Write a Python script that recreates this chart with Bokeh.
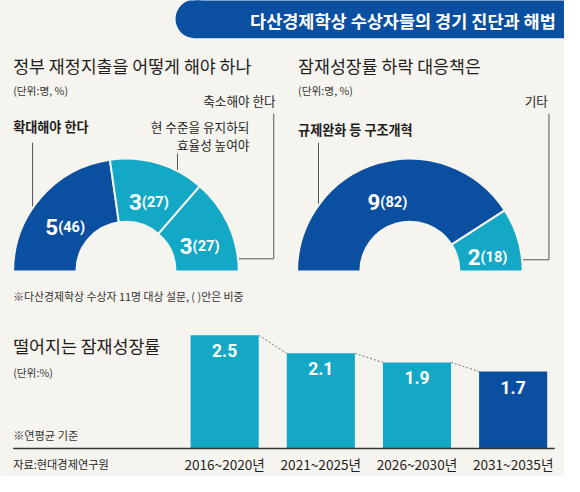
import numpy as np
from bokeh.plotting import figure
from bokeh.models import Range1d
from bokeh.core.properties import value
from bokeh.embed import file_html
from bokeh.resources import INLINE

# ---------------- data ----------------
headline = "다산경제학상 수상자들의 경기 진단과 해법"

spend_title = "정부 재정지출을 어떻게 해야 하나"
spend_labels = ["확대해야 한다", "현 수준을 유지하되\n효율성 높여야", "축소해야 한다"]
spend_counts = [5, 3, 3]
spend_pcts = [46, 27, 27]

growth_title = "잠재성장률 하락 대응책은"
growth_labels = ["규제완화 등 구조개혁", "기타"]
growth_counts = [9, 2]
growth_pcts = [82, 18]

unit_people = "(단위:명, %)"
survey_note = "※다산경제학상 수상자 11명 대상 설문, ( )안은 비중"

bar_title = "떨어지는 잠재성장률"
bar_unit = "(단위:%)"
bar_note = "※연평균 기준"
source = "자료:현대경제연구원"
periods = ["2016~2020년", "2021~2025년", "2026~2030년", "2031~2035년"]
potential_growth = [2.5, 2.1, 1.9, 1.7]

# ---------------- style ----------------
BG = "#f6f4ef"
DARK = "#0b4fa0"
TEAL = "#13a8c6"
INK = "#1e1e1e"
GREY = "#555555"
KR = value("Noto Sans CJK KR")
NUM = value("Roboto")

W, H = 564, 476
X0, X1 = 0, 580
Y0, Y1 = 0, 492
FS = W / (X1 - X0)   # font scale: layout space -> screen pixels


def fsz(s):
    return f"{s * FS:.2f}px"


p = figure(width=W, height=H, x_range=Range1d(X0, X1), y_range=Range1d(Y1, Y0),
           output_backend="svg", toolbar_location=None, title=None,
           x_axis_type=None, y_axis_type=None, min_border=0,
           outline_line_color=None, background_fill_color=BG, border_fill_color=BG)
p.grid.visible = False


def txt(x, y, s, size, align="left", bold=False, color=INK, font=KR, baseline="middle"):
    p.text(x=[x], y=[y], text=[s], text_font=font, text_font_size=fsz(size),
           text_font_style="bold" if bold else "normal", text_color=color,
           text_align=align, text_baseline=baseline)


# ---------------- headline banner ----------------
p.quad(left=[200], right=[X1 + 10], top=[-5], bottom=[39], fill_color=DARK, line_color=None)
p.circle(x=[200], y=[19], radius=20, fill_color=DARK, line_color=None)
txt(571, 21, headline, 18, align="right", bold=True, color="white")

# ---------------- section titles ----------------
txt(13, 67, spend_title, 17.8)
txt(306, 67, growth_title, 17.8)
txt(13, 93, unit_people, 11, color="#333333")
txt(306, 93, unit_people, 11, color="#333333")

# category labels
txt(13, 130, spend_labels[0], 13.5, bold=True)
l1, l2 = spend_labels[1].split("\n")
txt(256, 130, l1, 13, align="right")
txt(256, 149, l2, 13, align="right")
txt(283, 103, spend_labels[2], 13, align="right")
txt(306, 133, growth_labels[0], 13.5, bold=True)
txt(563, 103, growth_labels[1], 13, align="right")

# leader lines (drawn beneath the donuts)
leaders_x = [[33, 33], [182, 182], [281, 281, 230], [327, 327], [564, 564, 520]]
leaders_y = [[147, 230], [158, 210], [117, 267, 267], [147, 230], [117, 268, 268]]
p.multi_line(xs=leaders_x, ys=leaders_y, line_color=GREY, line_width=1)

# ---------------- donuts ----------------
R_OUT, R_IN, R_LAB = 116, 51, 83


def donut(cx, cy, counts, pcts, colors):
    counts = np.asarray(counts, dtype=float)
    frac = counts / counts.sum()
    ends = np.pi - np.pi * np.cumsum(frac)
    starts = np.concatenate([[np.pi], ends[:-1]])
    n = len(counts)
    p.annular_wedge(x=[cx] * n, y=[cy] * n, inner_radius=R_IN, outer_radius=R_OUT,
                    start_angle=starts, end_angle=ends, direction="clock",
                    fill_color=colors, line_color=BG, line_width=2)
    mids = (starts + ends) / 2
    lx = cx + R_LAB * np.cos(mids) - 7
    ly = cy - R_LAB * np.sin(mids) + 8
    p.text(x=lx, y=ly, text=[f"{int(c)}" for c in counts], text_font=NUM,
           text_font_size=fsz(23), text_font_style="bold", text_color="white",
           text_align="right", text_baseline="alphabetic")
    p.text(x=lx, y=ly, text=[f"({v})" for v in pcts], text_font=NUM,
           text_font_size=fsz(15), text_font_style="bold", text_color="white",
           text_align="left", text_baseline="alphabetic")


donut(129, 280, spend_counts, spend_pcts, [DARK, TEAL, TEAL])
donut(421, 280, growth_counts, growth_pcts, [DARK, TEAL])

txt(13, 305, survey_note, 11.2, color="#333333")

# ---------------- bar chart ----------------
BAR_X0, BAR_STEP = 230.5, 98.9
BASE_Y, PX_PER_UNIT = 463, 46.8
BAR_W = 0.708

p.extra_x_ranges = {"bars": Range1d((X0 - BAR_X0) / BAR_STEP, (X1 - BAR_X0) / BAR_STEP)}
p.extra_y_ranges = {"bars": Range1d((BASE_Y - Y1) / PX_PER_UNIT, (BASE_Y - Y0) / PX_PER_UNIT)}

idx = np.arange(len(periods))
vals = np.asarray(potential_growth)
bar_colors = [TEAL] * (len(periods) - 1) + [DARK]

p.segment(x0=idx[:-1] + BAR_W / 2, y0=vals[:-1], x1=idx[1:] - BAR_W / 2, y1=vals[1:],
          x_range_name="bars", y_range_name="bars",
          line_color="#777777", line_width=1, line_dash="2 2")
p.vbar(x=idx, top=vals, bottom=0, width=BAR_W, fill_color=bar_colors, line_color=None,
       x_range_name="bars", y_range_name="bars")
p.text(x=idx, y=vals, text=[f"{v:.1f}" for v in vals], text_font=NUM,
       text_font_size=fsz(18), text_font_style="bold", text_color="white",
       text_align="center", text_baseline="middle", y_offset=16 * FS,
       x_range_name="bars", y_range_name="bars")

# baseline
p.segment(x0=[13], y0=[0], x1=[570], y1=[0], line_color="#333333", line_width=1.5,
          x_range_name="default", y_range_name="bars")

p.text(x=idx, y=[479] * len(periods), text=periods, text_font=KR, text_font_size=fsz(14),
       text_color=INK, text_align="center", text_baseline="middle", x_range_name="bars")

txt(13, 357, bar_title, 17.8)
txt(13, 385, bar_unit, 11, color="#333333")
txt(13, 449, bar_note, 11.5, color="#333333")
txt(13, 479, source, 11.5)

open("out.html", "w").write(file_html(p, INLINE))
